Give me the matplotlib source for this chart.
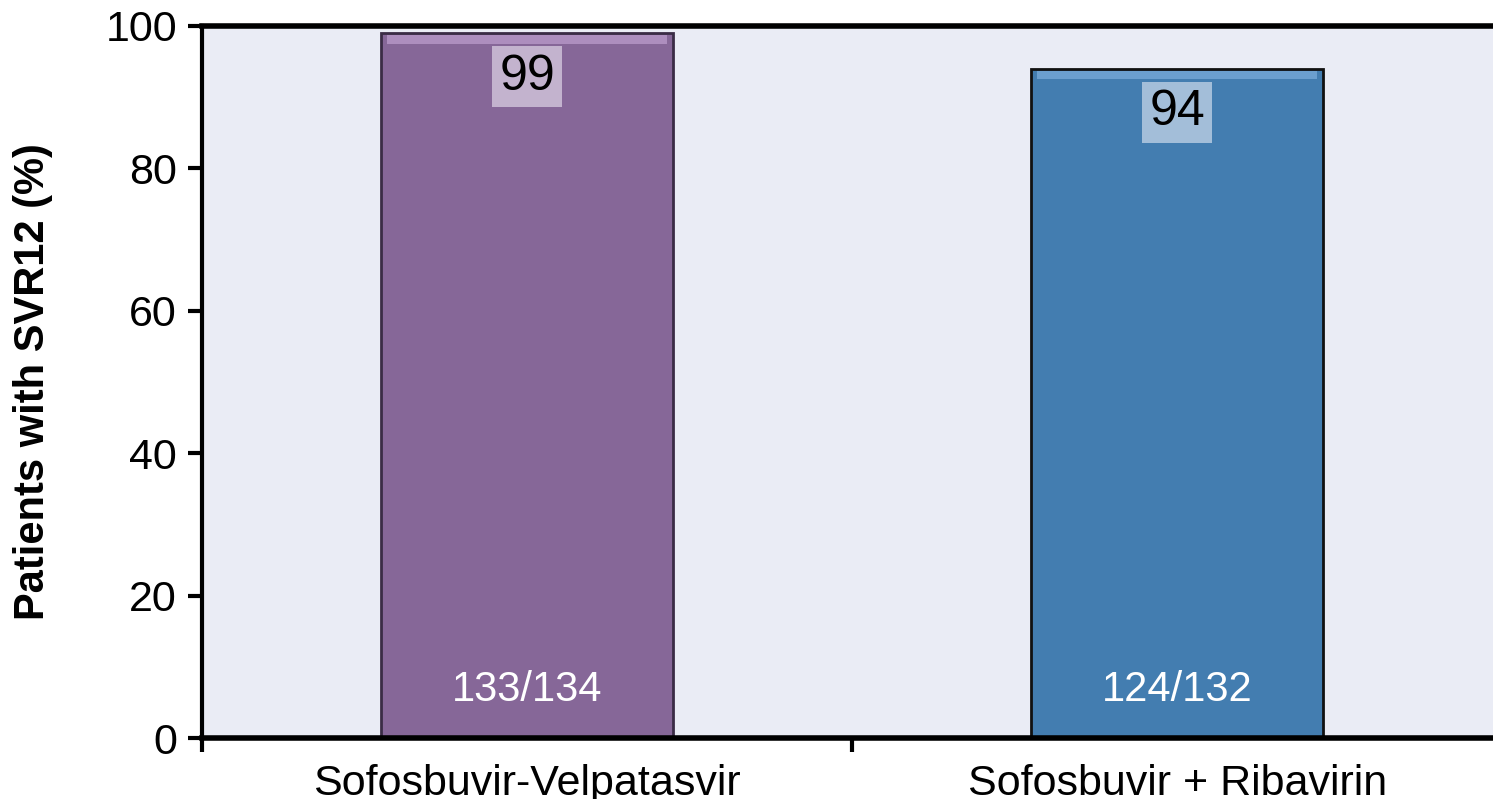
import matplotlib
matplotlib.use("Agg")
import matplotlib.pyplot as plt

categories = ["Sofosbuvir-Velpatasvir", "Sofosbuvir + Ribavirin"]
values = [99, 94]
counts = ["133/134", "124/132"]
yticks = [0, 20, 40, 60, 80, 100]

bar_colors = ["#866798", "#437DB0"]
box_colors = ["#C3B3CE", "#A3BED9"]
edge_colors = ["#3a2c45", "#111111"]
top_colors = ["#B898C8", "#76A8D8"]

plt.rcParams['font.family'] = ['Liberation Sans', 'DejaVu Sans']

fig = plt.figure(figsize=(14.93, 7.99), dpi=100)
ax = fig.add_axes([0.1353, 0.0763, 0.8647, 0.8912])
ax.set_facecolor("#EAECF5")

x = list(range(len(categories)))
bars = ax.bar(x, values, width=0.45, color=bar_colors, edgecolor=edge_colors, linewidth=2, zorder=3)
# subtle bevel highlight along the top of each bar
ax.bar(x, [1.2] * len(values), bottom=[v - 1.5 for v in values], width=0.43,
       color=top_colors, edgecolor="none", zorder=4, alpha=0.8)

for xi, v, c, bc in zip(x, values, counts, box_colors):
    ax.text(xi, v - 6.1, str(v), ha="center", va="center", fontsize=36, color="black", zorder=5,
            bbox=dict(boxstyle="square,pad=0.15", facecolor=bc, edgecolor="none"))
    ax.text(xi, 6.7, c, ha="center", va="center", fontsize=30, color="white", zorder=5)

ax.set_xlim(-0.5, 1.486)
ax.set_ylim(0, 100)
ax.set_yticks(yticks)
ax.set_yticklabels([str(t) for t in yticks], fontsize=31)
ax.set_xticks(x)
ax.set_xticklabels(categories, fontsize=31)
ax.tick_params(axis="x", length=0, pad=19)
ax.set_xticks([-0.5, 0.5], minor=True)
ax.tick_params(axis="x", which="minor", length=10, width=3, direction="out")
ax.tick_params(axis="y", length=10, width=3, direction="out", pad=8)

ax.set_ylabel("Patients with SVR12 (%)", fontsize=30, fontweight="bold", labelpad=38)

ax.spines["right"].set_visible(False)
ax.spines["left"].set_linewidth(3)
ax.spines["bottom"].set_linewidth(4)
ax.spines["top"].set_linewidth(4)
for s in ax.spines.values():
    s.set_zorder(6)

fig.savefig("out.png", dpi=100)
